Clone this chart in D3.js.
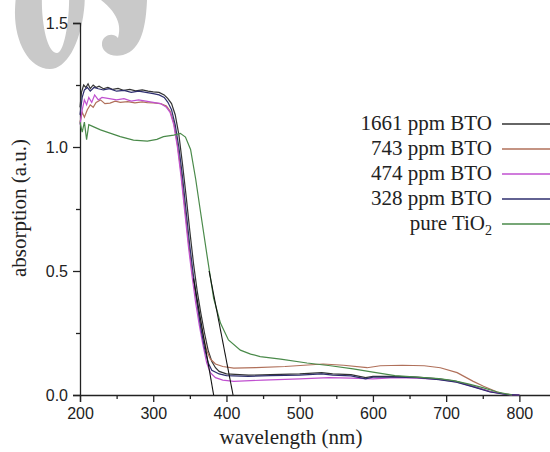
<!DOCTYPE html>
<html>
<head>
  <title>Absorption spectra</title>
  <script src="https://d3js.org/d3.v7.min.js"></script>
  <style>
    body { margin: 0; background: #fff; }
    .tick text { font: 16px "Liberation Sans", Arial, sans-serif; fill: #222; }
    .domain, .tick line { stroke: #222; stroke-width: 1.3px; }
    .label { font: 21px "Liberation Serif", "Times New Roman", serif; fill: #222; }
    .legend text { font: 21px "Liberation Serif", "Times New Roman", serif; fill: #222; }
    .curve { fill: none; stroke-width: 1.2px; }
  </style>
</head>
<body>
  <script>
    var width = 550,
        height = 452;

    var seriesNames = ["1661 ppm BTO", "743 ppm BTO", "474 ppm BTO", "328 ppm BTO", "pure TiO2"];
    var seriesColors = ["#333333", "#b0705a", "#c050d0", "#2e2e6e", "#4a8a4a"];

    // [wavelength nm, absorption]
    var bto1661 = [[200,1.16],[202,1.22],[205,1.25],[208,1.24],[211,1.255],[214,1.235],[218,1.25],[222,1.24],
      [226,1.245],[232,1.235],[238,1.24],[245,1.232],[252,1.236],[260,1.228],[268,1.232],[276,1.226],[285,1.23],
      [293,1.225],[300,1.222],[308,1.22],[315,1.21],[320,1.195],[325,1.175],[330,1.13],[335,1.05],[340,0.93],
      [345,0.8],[350,0.66],[355,0.53],[360,0.42],[365,0.33],[370,0.25],[375,0.18],[380,0.135],[385,0.11],
      [390,0.095],[400,0.085],[430,0.08],[460,0.082],[500,0.085],[530,0.09],[545,0.085],[570,0.082],[590,0.07],
      [600,0.075],[630,0.075],[660,0.072],[690,0.065],[714,0.055],[737,0.035],[760,0.014],[782,0.003],[800,0]];

    var bto743 = [[200,1.1],[203,1.14],[206,1.12],[210,1.15],[214,1.17],[218,1.16],[222,1.18],[228,1.19],
      [234,1.175],[241,1.177],[248,1.185],[255,1.18],[265,1.183],[275,1.178],[285,1.182],[292,1.179],[300,1.178],
      [310,1.175],[318,1.165],[323,1.145],[328,1.1],[333,1.01],[338,0.9],[343,0.76],[348,0.62],[353,0.5],
      [358,0.4],[363,0.31],[368,0.24],[373,0.18],[378,0.145],[385,0.125],[395,0.115],[410,0.108],[440,0.11],
      [480,0.115],[532,0.125],[560,0.12],[592,0.11],[610,0.118],[640,0.12],[670,0.118],[692,0.11],[715,0.09],
      [737,0.055],[751,0.035],[769,0.013],[778,0.005],[790,0]];

    var bto474 = [[200,1.09],[203,1.15],[206,1.19],[209,1.17],[212,1.2],[216,1.18],[220,1.21],[225,1.19],
      [230,1.2],[240,1.195],[250,1.19],[260,1.195],[270,1.185],[280,1.19],[290,1.185],[300,1.18],[310,1.175],
      [318,1.16],[323,1.14],[328,1.09],[333,1.0],[338,0.88],[343,0.74],[348,0.6],[353,0.48],[358,0.37],
      [363,0.28],[368,0.2],[373,0.13],[378,0.09],[385,0.07],[395,0.06],[410,0.055],[450,0.06],[500,0.065],
      [540,0.07],[570,0.068],[600,0.065],[630,0.07],[660,0.068],[690,0.063],[714,0.053],[737,0.034],
      [760,0.013],[782,0.002],[800,0]];

    var bto328 = [[200,1.13],[203,1.2],[206,1.23],[210,1.24],[214,1.225],[219,1.24],[225,1.235],[232,1.23],
      [240,1.235],[250,1.225],[260,1.228],[270,1.22],[280,1.225],[290,1.22],[300,1.215],[308,1.21],[315,1.2],
      [320,1.18],[325,1.15],[330,1.09],[335,1.0],[340,0.88],[345,0.74],[350,0.6],[355,0.48],[360,0.37],
      [365,0.27],[370,0.19],[375,0.13],[380,0.1],[390,0.085],[400,0.078],[430,0.075],[460,0.078],[500,0.08],
      [530,0.085],[545,0.08],[570,0.077],[590,0.065],[600,0.072],[630,0.072],[660,0.07],[690,0.062],
      [714,0.052],[737,0.033],[760,0.012],[782,0.002],[800,0]];

    var tio2 = [[200,1.1],[203,1.06],[206,1.1],[209,1.03],[212,1.09],[218,1.082],[228,1.069],[241,1.056],
      [255,1.042],[273,1.028],[292,1.024],[305,1.031],[314,1.042],[328,1.048],[337,1.055],[344,1.04],
      [351,0.99],[358,0.87],[364.5,0.74],[373.6,0.56],[382.5,0.39],[391.8,0.29],[402.7,0.222],[419,0.181],
      [433,0.165],[446,0.155],[474,0.145],[510,0.129],[542,0.118],[573,0.105],[600,0.092],[630,0.078],
      [660,0.072],[690,0.066],[710,0.058],[730,0.045],[750,0.03],[770,0.012],[790,0]];

    // band-edge extrapolation lines
    var edgeBTO = [[355,0.47],[382.5,0]];
    var edgeTiO2 = [[376.3,0.5],[409,0]];

    var xMajor = [200, 300, 400, 500, 600, 700, 800];
    var xMinor = [250, 350, 450, 550, 650, 750];
    var yMajor = [0, 0.5, 1.0, 1.5];
    var yMinor = [0.25, 0.75, 1.25];

    var allSeries = [bto1661, bto743, bto474, bto328, tio2];

    var svg = d3.select("body").append("svg")
        .attr("width", width)
        .attr("height", height);

    // grey "OJ" watermark cut by the top edge
    var mark = svg.append("g").style("fill", "#c9c9c9");
    mark.append("path")
        .attr("fill-rule", "evenodd")
        .attr("d", "M48,-60 C75,-60 88,-20 84,10 C80,45 66,69 50,69 C28,69 14,40 15,10 C16,-25 28,-60 48,-60 Z" +
                   "M56,-50 C66,-50 70,-20 69,5 C68,30 63,53 57,53 C48,53 43,30 42,8 C41,-20 46,-50 56,-50 Z");
    mark.append("path")
        .attr("d", "M101,0 L147,0 C146,25 142,50 123,55 C110,58 101,51 102,43 C103,35 113,32 118,38 " +
                   "C121,28 120,15 101,0 Z");

    var x = d3.scaleLinear().domain([200, 850]).range([80, 556]);
    var y = d3.scaleLinear().domain([0, 1.5]).range([395, 23]);

    svg.append("g")
        .attr("transform", "translate(0,395)")
        .call(d3.axisBottom(x).tickValues(xMajor).tickSize(7).tickPadding(6).tickFormat(d3.format("d")));
    svg.append("g")
        .attr("transform", "translate(0,395)")
        .call(d3.axisBottom(x).tickValues(xMinor).tickSize(4).tickFormat(""))
        .select(".domain").remove();

    svg.append("g")
        .attr("transform", "translate(80,0)")
        .call(d3.axisLeft(y).tickValues(yMajor).tickSize(7).tickPadding(5).tickFormat(d3.format(".1f")));
    svg.append("g")
        .attr("transform", "translate(80,0)")
        .call(d3.axisLeft(y).tickValues(yMinor).tickSize(4).tickFormat(""))
        .select(".domain").remove();

    var line = d3.line()
        .x(function(d) { return x(d[0]); })
        .y(function(d) { return y(d[1]); });

    svg.selectAll(".curve")
        .data(allSeries)
        .enter().append("path")
        .attr("class", "curve")
        .attr("d", line)
        .style("stroke", function(d, i) { return seriesColors[i]; });

    svg.selectAll(".edge")
        .data([edgeBTO, edgeTiO2])
        .enter().append("path")
        .attr("class", "edge")
        .attr("d", line)
        .style("fill", "none")
        .style("stroke", "#111")
        .style("stroke-width", 1.1);

    svg.append("text")
        .attr("class", "label")
        .attr("x", 291)
        .attr("y", 444)
        .attr("text-anchor", "middle")
        .text("wavelength (nm)");

    svg.append("text")
        .attr("class", "label")
        .attr("transform", "translate(26,208) rotate(-90)")
        .attr("text-anchor", "middle")
        .text("absorption (a.u.)");

    var legend = svg.append("g").attr("class", "legend");
    var row = legend.selectAll("g")
        .data(seriesNames)
        .enter().append("g")
        .attr("transform", function(d, i) { return "translate(0," + (124 + i * 25) + ")"; });

    row.append("line")
        .attr("x1", 502).attr("x2", 550)
        .attr("stroke", function(d, i) { return seriesColors[i]; })
        .attr("stroke-width", 1.3);

    row.append("text")
        .attr("x", 492)
        .attr("y", 6)
        .attr("text-anchor", "end")
        .each(function(d) {
          var t = d3.select(this);
          if (d === "pure TiO2") {
            t.append("tspan").text("pure TiO");
            t.append("tspan").attr("dy", 5).style("font-size", "14px").text("2");
          } else {
            t.text(d);
          }
        });
  </script>
</body>
</html>
